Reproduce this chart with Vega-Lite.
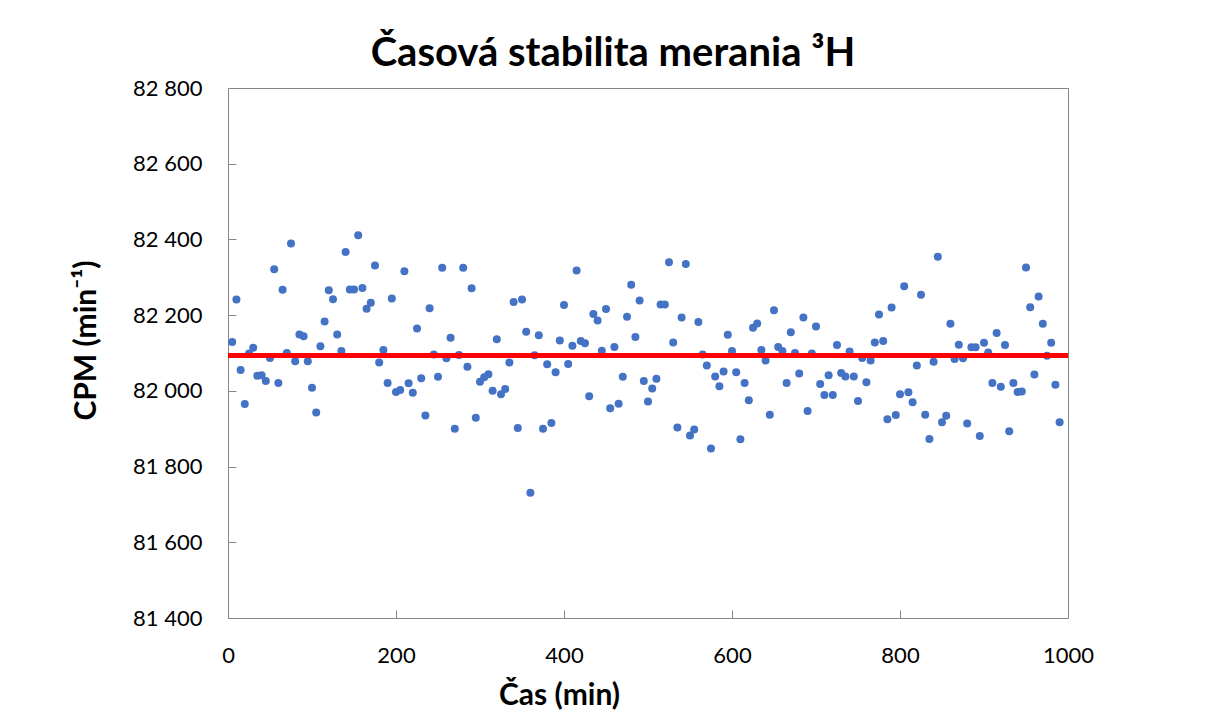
{
  "$schema": "https://vega.github.io/schema/vega-lite/v6.json",
  "width": 840,
  "height": 530,
  "autosize": {"type": "none"},
  "padding": {"left": 228, "top": 88, "right": 146, "bottom": 99},
  "background": "white",
  "title": {
    "text": "Časová stabilita merania ³H",
    "font": "Lato",
    "fontSize": 40,
    "fontWeight": "bold",
    "color": "#000000",
    "anchor": "middle",
    "dx": -35,
    "offset": 3
  },
  "config": {
    "view": {"stroke": "#868686", "strokeWidth": 1},
    "axis": {
      "grid": false,
      "domain": false,
      "tickColor": "#868686",
      "tickSize": -8,
      "labelFont": "Lato",
      "labelFontSize": 22,
      "labelColor": "#000000",
      "labelFlush": false,
      "labelOverlap": false,
      "titleFont": "Lato",
      "titleFontSize": 30,
      "titleFontWeight": "bold",
      "titleColor": "#000000"
    }
  },
  "data": {
    "values": [
      {"t": 5, "cpm": 82129}, {"t": 10, "cpm": 82241}, {"t": 15, "cpm": 82055}, {"t": 20, "cpm": 81965},
      {"t": 25, "cpm": 82099}, {"t": 30, "cpm": 82114}, {"t": 35, "cpm": 82040}, {"t": 40, "cpm": 82041},
      {"t": 45, "cpm": 82026}, {"t": 50, "cpm": 82087}, {"t": 55, "cpm": 82321}, {"t": 60, "cpm": 82021},
      {"t": 65, "cpm": 82267}, {"t": 70, "cpm": 82100}, {"t": 75, "cpm": 82389}, {"t": 80, "cpm": 82078},
      {"t": 85, "cpm": 82149}, {"t": 90, "cpm": 82144}, {"t": 95, "cpm": 82078}, {"t": 100, "cpm": 82008},
      {"t": 105, "cpm": 81943}, {"t": 110, "cpm": 82118}, {"t": 115, "cpm": 82183}, {"t": 120, "cpm": 82266},
      {"t": 125, "cpm": 82242}, {"t": 130, "cpm": 82149}, {"t": 135, "cpm": 82105}, {"t": 140, "cpm": 82367},
      {"t": 145, "cpm": 82268}, {"t": 150, "cpm": 82268}, {"t": 155, "cpm": 82411}, {"t": 160, "cpm": 82272},
      {"t": 165, "cpm": 82217}, {"t": 170, "cpm": 82233}, {"t": 175, "cpm": 82331}, {"t": 180, "cpm": 82075},
      {"t": 185, "cpm": 82108}, {"t": 190, "cpm": 82021}, {"t": 195, "cpm": 82244}, {"t": 200, "cpm": 81997},
      {"t": 205, "cpm": 82002}, {"t": 210, "cpm": 82316}, {"t": 215, "cpm": 82020}, {"t": 220, "cpm": 81995},
      {"t": 225, "cpm": 82165}, {"t": 230, "cpm": 82033}, {"t": 235, "cpm": 81935}, {"t": 240, "cpm": 82218},
      {"t": 245, "cpm": 82096}, {"t": 250, "cpm": 82037}, {"t": 255, "cpm": 82325}, {"t": 260, "cpm": 82086},
      {"t": 265, "cpm": 82140}, {"t": 270, "cpm": 81900}, {"t": 275, "cpm": 82095}, {"t": 280, "cpm": 82325},
      {"t": 285, "cpm": 82064}, {"t": 290, "cpm": 82271}, {"t": 295, "cpm": 81929}, {"t": 300, "cpm": 82024},
      {"t": 305, "cpm": 82036}, {"t": 310, "cpm": 82044}, {"t": 315, "cpm": 82000}, {"t": 320, "cpm": 82136},
      {"t": 325, "cpm": 81991}, {"t": 330, "cpm": 82005}, {"t": 335, "cpm": 82075}, {"t": 340, "cpm": 82235},
      {"t": 345, "cpm": 81902}, {"t": 350, "cpm": 82241}, {"t": 355, "cpm": 82156}, {"t": 360, "cpm": 81731},
      {"t": 365, "cpm": 82094}, {"t": 370, "cpm": 82147}, {"t": 375, "cpm": 81900}, {"t": 380, "cpm": 82070},
      {"t": 385, "cpm": 81915}, {"t": 390, "cpm": 82049}, {"t": 395, "cpm": 82133}, {"t": 400, "cpm": 82227},
      {"t": 405, "cpm": 82071}, {"t": 410, "cpm": 82119}, {"t": 415, "cpm": 82318}, {"t": 420, "cpm": 82132},
      {"t": 425, "cpm": 82126}, {"t": 430, "cpm": 81986}, {"t": 435, "cpm": 82203}, {"t": 440, "cpm": 82186},
      {"t": 445, "cpm": 82106}, {"t": 450, "cpm": 82216}, {"t": 455, "cpm": 81954}, {"t": 460, "cpm": 82116},
      {"t": 465, "cpm": 81966}, {"t": 470, "cpm": 82037}, {"t": 475, "cpm": 82196}, {"t": 480, "cpm": 82280},
      {"t": 485, "cpm": 82142}, {"t": 490, "cpm": 82239}, {"t": 495, "cpm": 82026}, {"t": 500, "cpm": 81972},
      {"t": 505, "cpm": 82006}, {"t": 510, "cpm": 82032}, {"t": 515, "cpm": 82228}, {"t": 520, "cpm": 82228},
      {"t": 525, "cpm": 82340}, {"t": 530, "cpm": 82128}, {"t": 535, "cpm": 81903}, {"t": 540, "cpm": 82194},
      {"t": 545, "cpm": 82335}, {"t": 550, "cpm": 81882}, {"t": 555, "cpm": 81898}, {"t": 560, "cpm": 82182},
      {"t": 565, "cpm": 82096}, {"t": 570, "cpm": 82067}, {"t": 575, "cpm": 81848}, {"t": 580, "cpm": 82038},
      {"t": 585, "cpm": 82012}, {"t": 590, "cpm": 82051}, {"t": 595, "cpm": 82148}, {"t": 600, "cpm": 82105},
      {"t": 605, "cpm": 82049}, {"t": 610, "cpm": 81872}, {"t": 615, "cpm": 82021}, {"t": 620, "cpm": 81975},
      {"t": 625, "cpm": 82167}, {"t": 630, "cpm": 82178}, {"t": 635, "cpm": 82108}, {"t": 640, "cpm": 82080},
      {"t": 645, "cpm": 81937}, {"t": 650, "cpm": 82213}, {"t": 655, "cpm": 82116}, {"t": 660, "cpm": 82105},
      {"t": 665, "cpm": 82021}, {"t": 670, "cpm": 82155}, {"t": 675, "cpm": 82100}, {"t": 680, "cpm": 82046},
      {"t": 685, "cpm": 82194}, {"t": 690, "cpm": 81947}, {"t": 695, "cpm": 82099}, {"t": 700, "cpm": 82170},
      {"t": 705, "cpm": 82018}, {"t": 710, "cpm": 81989}, {"t": 715, "cpm": 82041}, {"t": 720, "cpm": 81989},
      {"t": 725, "cpm": 82121}, {"t": 730, "cpm": 82047}, {"t": 735, "cpm": 82038}, {"t": 740, "cpm": 82104},
      {"t": 745, "cpm": 82038}, {"t": 750, "cpm": 81973}, {"t": 755, "cpm": 82087}, {"t": 760, "cpm": 82023},
      {"t": 765, "cpm": 82080}, {"t": 770, "cpm": 82128}, {"t": 775, "cpm": 82202}, {"t": 780, "cpm": 82132},
      {"t": 785, "cpm": 81925}, {"t": 790, "cpm": 82220}, {"t": 795, "cpm": 81936}, {"t": 800, "cpm": 81991},
      {"t": 805, "cpm": 82276}, {"t": 810, "cpm": 81996}, {"t": 815, "cpm": 81970}, {"t": 820, "cpm": 82067},
      {"t": 825, "cpm": 82254}, {"t": 830, "cpm": 81937}, {"t": 835, "cpm": 81873}, {"t": 840, "cpm": 82077},
      {"t": 845, "cpm": 82354}, {"t": 850, "cpm": 81917}, {"t": 855, "cpm": 81934}, {"t": 860, "cpm": 82177},
      {"t": 865, "cpm": 82084}, {"t": 870, "cpm": 82122}, {"t": 875, "cpm": 82086}, {"t": 880, "cpm": 81914},
      {"t": 885, "cpm": 82115}, {"t": 890, "cpm": 82115}, {"t": 895, "cpm": 81881}, {"t": 900, "cpm": 82127},
      {"t": 905, "cpm": 82101}, {"t": 910, "cpm": 82021}, {"t": 915, "cpm": 82153}, {"t": 920, "cpm": 82011},
      {"t": 925, "cpm": 82121}, {"t": 930, "cpm": 81893}, {"t": 935, "cpm": 82021}, {"t": 940, "cpm": 81997},
      {"t": 945, "cpm": 81998}, {"t": 950, "cpm": 82326}, {"t": 955, "cpm": 82221}, {"t": 960, "cpm": 82043},
      {"t": 965, "cpm": 82249}, {"t": 970, "cpm": 82177}, {"t": 975, "cpm": 82093}, {"t": 980, "cpm": 82127},
      {"t": 985, "cpm": 82016}, {"t": 990, "cpm": 81917}
    ]
  },
  "layer": [
    {
      "mark": {"type": "circle", "size": 64, "color": "#4472C4", "opacity": 1},
      "encoding": {
        "x": {
          "field": "t",
          "type": "quantitative",
          "scale": {"domain": [0, 1000], "nice": false},
          "axis": {
            "values": [0, 200, 400, 600, 800, 1000],
            "format": "d",
            "title": "Čas (min)",
            "labelBaseline": "alphabetic",
            "labelPadding": 52,
            "titleX": 331,
            "titleY": 86,
            "titleAlign": "center",
            "titleBaseline": "alphabetic",
            "titleAnchor": null
          }
        },
        "y": {
          "field": "cpm",
          "type": "quantitative",
          "scale": {"domain": [81400, 82800], "nice": false, "zero": false},
          "axis": {
            "values": [81400, 81600, 81800, 82000, 82200, 82400, 82600, 82800],
            "labelExpr": "replace(format(datum.value, ',d'), ',', ' ')",
            "labelPadding": 34,
            "title": "CPM (min⁻¹)",
            "titleX": -133,
            "titleY": 252,
            "titleAngle": -90,
            "titleAlign": "center",
            "titleBaseline": "alphabetic"
          }
        }
      }
    },
    {
      "mark": {"type": "rule", "color": "#FF0000", "strokeWidth": 4},
      "encoding": {"y": {"datum": 82094}}
    }
  ]
}
